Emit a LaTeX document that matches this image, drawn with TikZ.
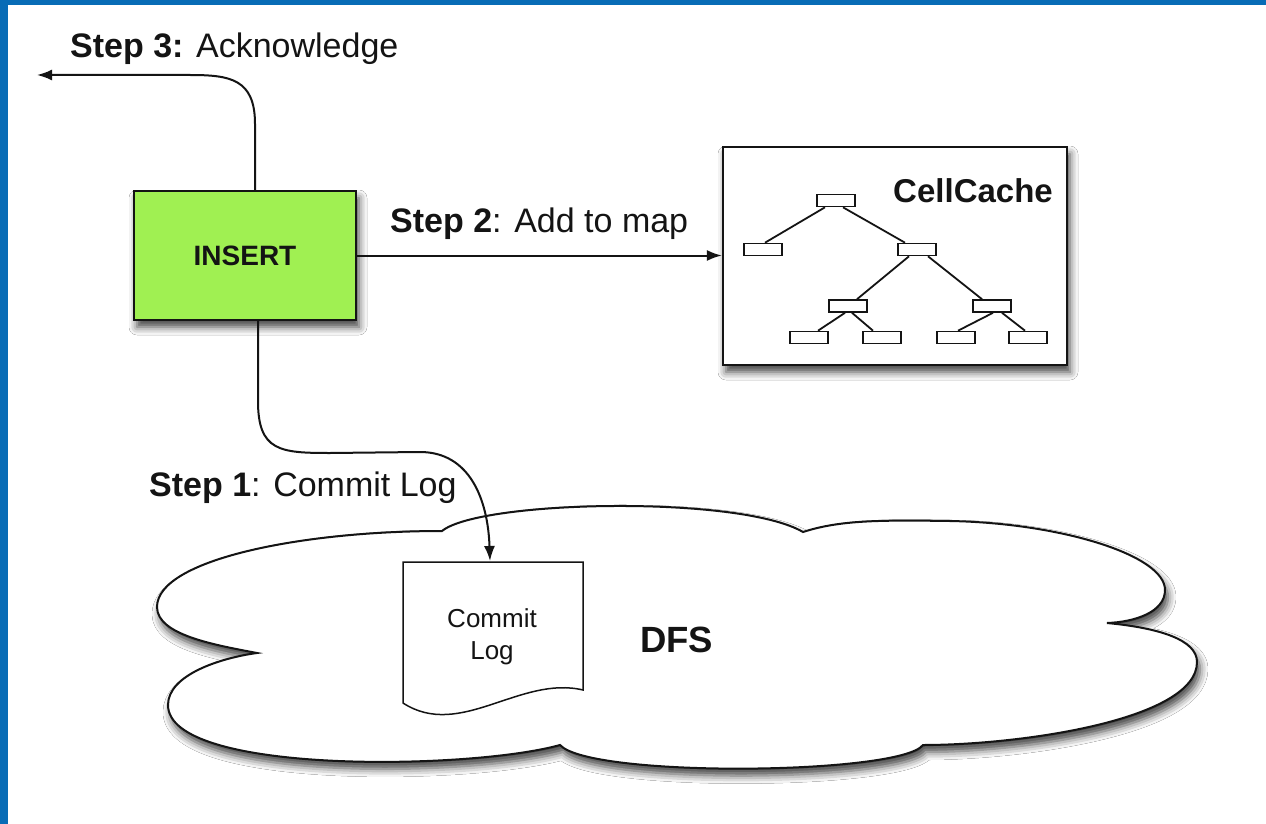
\documentclass[tikz,border=0pt]{standalone}
\usepackage{fontspec}
\setmainfont{Liberation Sans}
\usetikzlibrary{arrows.meta,shadows.blur}
\definecolor{bordblue}{RGB}{8,108,182}
\definecolor{insgreen}{RGB}{160,240,82}
\definecolor{ink}{RGB}{20,20,20}
\begin{document}
\begin{tikzpicture}[x=1pt,y=-1pt,
  boxshadow/.style={blur shadow={shadow xshift=3pt,shadow yshift=-7pt,shadow blur radius=8pt,shadow opacity=75}},
  mainbox/.style={draw=ink,line width=2.2pt,inner sep=0pt,boxshadow},
  leaf/.style={draw=ink,fill=white,line width=1.6pt,minimum width=38pt,minimum height=12pt,inner sep=0pt},
  twig/.style={draw=ink,line width=1.8pt},
  conn/.style={draw=ink,line width=2pt,-{Latex[length=15pt,width=11pt]}},
  lbl/.style={font=\fontsize{34}{40}\selectfont,text=ink,inner sep=0pt},
]
\useasboundingbox (0,0) rectangle (1266,824);
\fill[white] (0,0) rectangle (1266,824);
\fill[bordblue] (0,0) rectangle (8,824);
\fill[bordblue] (0,0) rectangle (1266,5);

% cloud (DFS)
\path[draw=ink,line width=2pt,fill=white,boxshadow]
  (257,653) .. controls (215,645) and (157,635) .. (157,607)
  .. controls (157,560) and (300,531) .. (442,531)
  .. controls (480,500) and (740,495) .. (803,532)
  .. controls (840,520) and (880,520) .. (950,521)
  .. controls (1060,523) and (1165,555) .. (1165,590)
  .. controls (1165,612) and (1135,622) .. (1107,623)
  .. controls (1160,628) and (1197,640) .. (1197,662)
  .. controls (1197,720) and (1020,745) .. (923,745)
  .. controls (900,775) and (590,778) .. (560,745)
  .. controls (470,770) and (168,775) .. (168,705)
  .. controls (168,675) and (220,658) .. (257,653) -- cycle;
\node[font=\fontsize{36.5}{40}\selectfont\bfseries,text=ink,inner sep=0pt,anchor=base west] (dfs) at (640,652) {DFS};

% commit log document
\draw[ink,line width=1.5pt,fill=white]
  (403,562) -- (583,562) -- (583,690)
  .. controls (520,675) and (460,740) .. (403,703) -- cycle;
\node[font=\fontsize{26}{32}\selectfont,text=ink,align=center,inner sep=0pt] (logtext) at (492,637) {Commit\\Log};
\coordinate (doctop) at (490,561);

% INSERT box
\node[mainbox,fill=insgreen,minimum width=222pt,minimum height=129pt,
      font=\fontsize{28}{32}\selectfont\bfseries,text=ink] (insert) at (245,255.5) {INSERT};

% CellCache box
\node[mainbox,fill=white,minimum width=344pt,minimum height=218pt] (cache) at (895,256) {};
\node[lbl,font=\fontsize{33}{40}\selectfont\bfseries,anchor=base east] (cachelbl) at (1053,202) {CellCache};

% tree
\node[leaf] (r)   at (836,200.5) {};
\node[leaf] (a)   at (763,249.5) {};
\node[leaf] (b)   at (917,249.5) {};
\node[leaf] (c)   at (848,306) {};
\node[leaf] (d)   at (992,306) {};
\node[leaf] (e1)  at (809,337.5) {};
\node[leaf] (e2)  at (882,337.5) {};
\node[leaf] (e3)  at (956,337.5) {};
\node[leaf] (e4)  at (1028,337.5) {};
\draw[twig] ([xshift=-11pt]r.south) -- ([xshift=2pt]a.north);
\draw[twig] ([xshift=7pt]r.south) -- ([xshift=-12pt]b.north);
\draw[twig] ([xshift=-8pt]b.south) -- ([xshift=9pt]c.north);
\draw[twig] ([xshift=11pt]b.south) -- ([xshift=-10pt]d.north);
\draw[twig] ([xshift=-3pt]c.south) -- ([xshift=9pt]e1.north);
\draw[twig] ([xshift=4pt]c.south) -- ([xshift=-9pt]e2.north);
\draw[twig] ([xshift=1pt]d.south) -- ([xshift=2pt]e3.north);
\draw[twig] ([xshift=10pt]d.south) -- ([xshift=-3pt]e4.north);

% connectors
\coordinate (ackend) at (37,75);
\draw[conn] ([xshift=10pt]insert.north) -- ++(0,-66) .. controls +(0,-45) and (230,75) .. (190,75) -- (ackend);
\draw[conn] (insert.east) -- (insert.east -| cache.west);
\draw[conn] ([xshift=13pt]insert.south) -- ++(0,80) .. controls +(0,50) and (280,453) .. (330,453) -- (420,452) .. controls (470,452) and (488,500) .. (doctop);

% labels
\node[lbl,anchor=base west] (s3) at (70,58) {\textbf{Step 3:} Acknowledge};
\node[lbl,anchor=base west] (s2) at (390,232) {\textbf{Step 2}: Add to map};
\node[lbl,anchor=base west] (s1) at (149,496) {\textbf{Step 1}: Commit Log};
\end{tikzpicture}
\end{document}
